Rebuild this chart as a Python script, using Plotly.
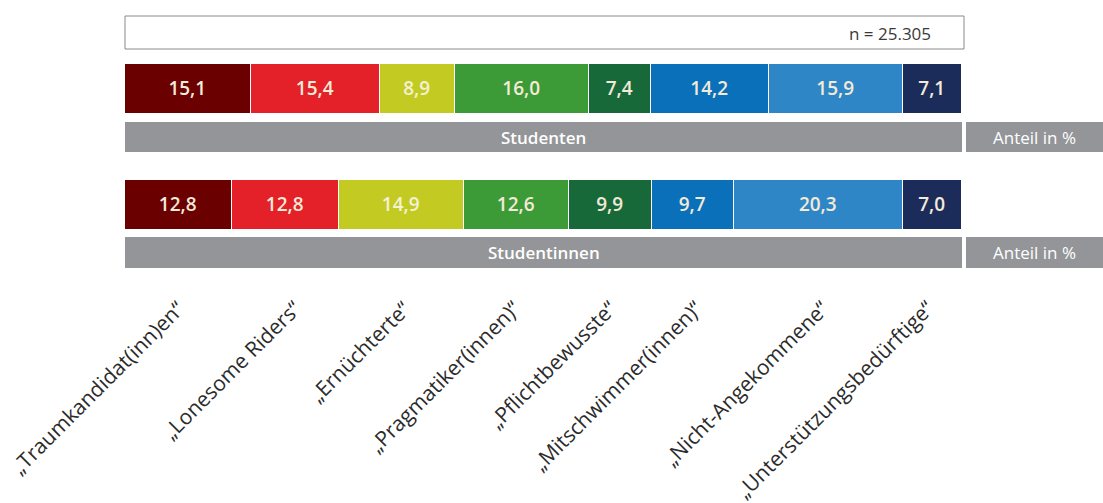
import plotly.graph_objects as go

categories = ["„Traumkandidat(inn)en“", "„Lonesome Riders“", "„Ernüchterte“", "„Pragmatiker(innen)“",
              "„Pflichtbewusste“", "„Mitschwimmer(innen)“", "„Nicht-Angekommene“", "„Unterstützungsbedürftige“"]
groups = ["Studenten", "Studentinnen"]
studenten = [15.1, 15.4, 8.9, 16.0, 7.4, 14.2, 15.9, 7.1]
studentinnen = [12.8, 12.8, 14.9, 12.6, 9.9, 9.7, 20.3, 7.0]
n_text = "n = 25.305"
unit_text = "Anteil in %"

colors = ["#6a0000", "#e42128", "#c3cb22", "#3c9b37", "#17693a", "#0a70b9", "#2f86c6", "#1c2c5a"]
text_colors = ["#f3ead8", "#f3ead8", "#f4f1d6", "#f3ead8", "#f3ead8", "#f3ead8", "#f3ead8", "#f3ead8"]

W, H = 1103, 503
X0PX, X1PX = 125, 962
ppu = (X1PX - X0PX) / 100.0
xr = [-X0PX / ppu, (W - X0PX) / ppu]

bar_y = [89, 205]
bar_w = 50

fig = go.Figure()
for i, cat in enumerate(categories):
    vals = [studenten[i], studentinnen[i]]
    fig.add_trace(go.Bar(
        orientation="h", x=vals, y=bar_y, width=bar_w,
        marker=dict(color=colors[i], line=dict(color="white", width=1.5)),
        text=[f"{v:.1f}".replace(".", ",") for v in vals],
        textposition="inside", insidetextanchor="middle", textangle=0,
        textfont=dict(family="Open Sans", size=19, color=text_colors[i], weight=600),
        constraintext="none", name=cat, showlegend=False, hoverinfo="skip"))

shapes = []
annotations = []
gray = "#939598"
# top n box
shapes.append(dict(type="rect", xref="x", yref="y", x0=0, x1=(964 - X0PX) / ppu, y0=16, y1=49,
                   fillcolor="white", line=dict(color="#8a8a8a", width=1), layer="below"))
annotations.append(dict(x=(933 - X0PX) / ppu, y=33, xref="x", yref="y", text=n_text, showarrow=False,
                        xanchor="right", yanchor="middle", font=dict(family="Open Sans", size=17, color="#3a3a3a")))

gray_y = [(122, 152), (237, 268)]
for g, (ya, yb) in zip(groups, gray_y):
    shapes.append(dict(type="rect", xref="x", yref="y", x0=0, x1=100, y0=ya, y1=yb,
                       fillcolor=gray, line=dict(width=0), layer="below"))
    shapes.append(dict(type="rect", xref="x", yref="y", x0=(966 - X0PX) / ppu, x1=xr[1] + 1, y0=ya, y1=yb,
                       fillcolor=gray, line=dict(width=0), layer="below"))
    annotations.append(dict(x=50, y=(ya + yb) / 2, xref="x", yref="y", text=g, showarrow=False,
                            font=dict(family="Open Sans", size=17, color="white", weight=600)))
    annotations.append(dict(x=((966 + 1103) / 2 - X0PX) / ppu, y=(ya + yb) / 2, xref="x", yref="y",
                            text=unit_text, showarrow=False,
                            font=dict(family="Open Sans", size=17, color="white")))

# rotated category labels: end at the mean of the two segment midpoints
cum1 = 0
cum2 = 0
for i, cat in enumerate(categories):
    mid1 = cum1 + studenten[i] / 2
    mid2 = cum2 + studentinnen[i] / 2
    cum1 += studenten[i]
    cum2 += studentinnen[i]
    mid = (mid1 + mid2) / 2 + 10 / ppu
    annotations.append(dict(x=mid, y=291, xref="x", yref="y", text=cat, showarrow=False,
                            textangle=-45, xanchor="right", yanchor="top",
                            font=dict(family="Open Sans", size=21, color="#2b2b2b")))

fig.update_layout(
    width=W, height=H, margin=dict(l=0, r=0, t=0, b=0),
    paper_bgcolor="white", plot_bgcolor="white", barmode="stack", bargap=0,
    xaxis=dict(range=xr, visible=False, fixedrange=True),
    yaxis=dict(range=[H, 0], visible=False, fixedrange=True),
    shapes=shapes, annotations=annotations, separators=",.",
    uniformtext=dict(mode=False),
)
fig.write_html("out.html", config={"displayModeBar": False},
               post_script="document.body.style.margin='0px';document.body.style.overflow='hidden';")
